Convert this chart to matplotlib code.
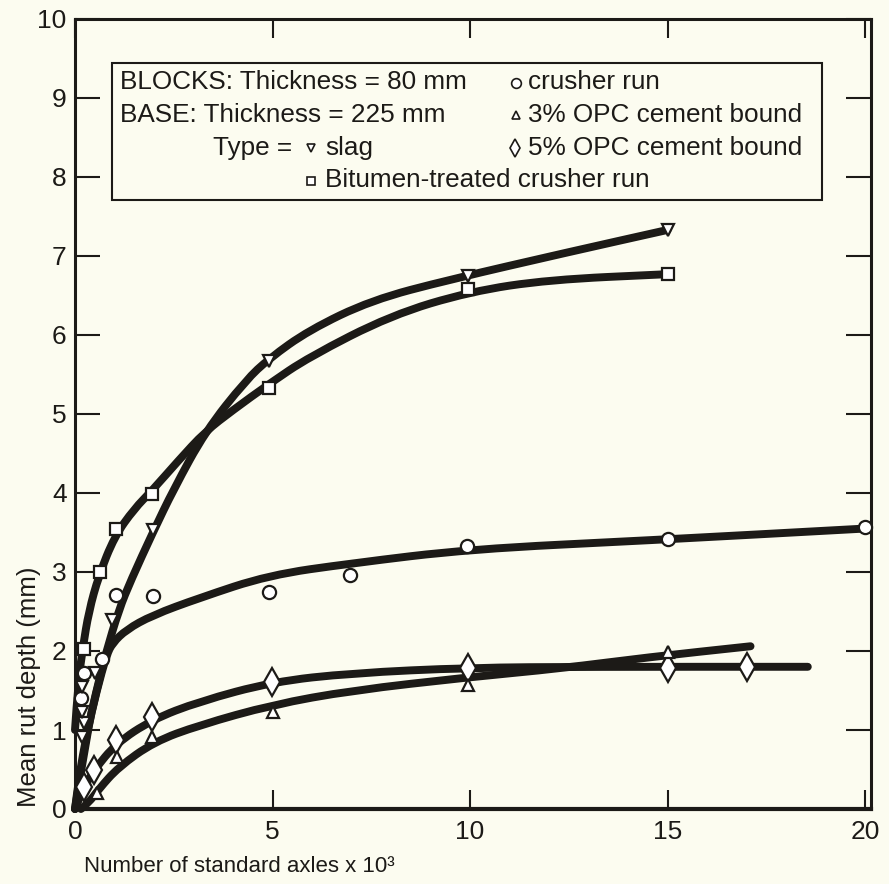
import matplotlib
matplotlib.use("Agg")
import matplotlib.pyplot as plt
from matplotlib.patches import Rectangle, PathPatch
from matplotlib.path import Path

plt.rcParams['font.family'] = ['Liberation Sans', 'DejaVu Sans']

# ---- data (x in 10^3 axles, y in mm) ----
crusher_x = [0.15, 0.23, 0.69, 1.04, 1.97, 4.91, 6.96, 9.92, 15, 20]
crusher_y = [1.40, 1.72, 1.90, 2.71, 2.69, 2.75, 2.96, 3.33, 3.42, 3.57]
crusher_curve_x = [0, 0.3, 0.55, 0.8, 0.95, 1.3, 1.95, 3.14, 4.9, 7, 10, 14.5, 20]
crusher_curve_y = [0, 0.96, 1.5, 1.95, 2.1, 2.27, 2.45, 2.67, 2.96, 3.11, 3.29, 3.40, 3.55]

slag_x = [0.18, 0.23, 0.18, 0.18, 0.5, 0.94, 1.97, 4.91, 9.95, 15]
slag_y = [0.91, 1.09, 1.23, 1.55, 1.72, 2.39, 3.53, 5.67, 6.75, 7.33]
slag_curve_x = [0, 0.1, 0.3, 0.53, 0.78, 1.11, 1.42, 1.97, 2.5, 3.3, 4.33, 4.91, 5.92, 7.5, 9.47, 12.5, 15]
slag_curve_y = [0, 0.4, 0.96, 1.47, 1.97, 2.52, 2.9, 3.5, 4.05, 4.78, 5.43, 5.7, 6.06, 6.44, 6.70, 7.05, 7.33]

bitumen_x = [0.23, 0.63, 1.04, 1.95, 4.91, 9.95, 15]
bitumen_y = [2.02, 3.0, 3.54, 3.99, 5.33, 6.58, 6.77]
bitumen_curve_x = [0, 0.08, 0.2, 0.35, 0.6, 1.0, 1.5, 1.95, 2.6, 3.3, 4.0, 4.91, 5.92, 8, 10, 12, 15]
bitumen_curve_y = [1.0, 1.6, 2.05, 2.5, 2.95, 3.45, 3.8, 4.03, 4.4, 4.78, 5.05, 5.38, 5.72, 6.25, 6.55, 6.70, 6.77]

opc5_x = [0.23, 0.48, 1.04, 1.95, 4.99, 9.95, 15, 17.0]
opc5_y = [0.28, 0.50, 0.87, 1.16, 1.61, 1.78, 1.78, 1.80]
opc5_curve_x = [0, 0.2, 0.48, 1.04, 1.95, 3.14, 5, 7, 10, 13, 18.55]
opc5_curve_y = [0, 0.25, 0.49, 0.83, 1.13, 1.36, 1.61, 1.72, 1.79, 1.80, 1.80]

opc3_x = [0.56, 1.06, 1.95, 5.0, 9.95, 15]
opc3_y = [0.2, 0.66, 0.91, 1.23, 1.57, 1.99]
opc3_curve_x = [0.15, 0.35, 0.6, 1.1, 2.0, 3.14, 5, 7, 10, 12.3, 14.5, 17.1]
opc3_curve_y = [0, 0.08, 0.25, 0.53, 0.85, 1.06, 1.32, 1.5, 1.67, 1.78, 1.92, 2.06]

x_ticks = [0, 5, 10, 15, 20]
y_ticks = list(range(0, 11))

ink = '#1c1a17'
bg = '#fcfcf0'


def smooth_path(xs, ys):
    # quadratic bezier through midpoints, drawn by matplotlib's Path
    verts = [(xs[0], ys[0])]
    codes = [Path.MOVETO]
    for i in range(1, len(xs) - 1):
        verts.append((xs[i], ys[i]))
        verts.append(((xs[i] + xs[i + 1]) / 2, (ys[i] + ys[i + 1]) / 2))
        codes += [Path.CURVE3, Path.CURVE3]
    verts.append((xs[-1], ys[-1]))
    codes.append(Path.LINETO)
    return Path(verts, codes)


fig = plt.figure(figsize=(8.89, 8.84), dpi=100, facecolor=bg)
ax = fig.add_axes([75 / 889, 1 - 809 / 884, 796 / 889, 790 / 884])
ax.set_facecolor(bg)

curves = [
    (crusher_curve_x, crusher_curve_y),
    (slag_curve_x, slag_curve_y),
    (bitumen_curve_x, bitumen_curve_y),
    (opc5_curve_x, opc5_curve_y),
    (opc3_curve_x, opc3_curve_y),
]
for cx, cy in curves:
    pp = PathPatch(smooth_path(cx, cy), fill=False, edgecolor=ink, lw=5.7,
                   capstyle='round', joinstyle='round', zorder=2, clip_on=False)
    ax.add_patch(pp)

mk = dict(linestyle='none', markerfacecolor='white', markeredgecolor=ink,
          markeredgewidth=1.6, zorder=3, clip_on=False)
ax.plot(crusher_x, crusher_y, marker='o', markersize=9.5, **mk)
ax.plot(slag_x, slag_y, marker='v', markersize=8, **mk)
ax.plot(bitumen_x, bitumen_y, marker='s', markersize=8.5, **mk)
ax.plot(opc5_x, opc5_y, marker='d', markersize=14, **mk)
ax.plot(opc3_x, opc3_y, marker='^', markersize=8, **mk)

ax.set_xlim(0, 20.15)
ax.set_ylim(0, 10)
ax.set_xticks(x_ticks)
ax.set_yticks(y_ticks)

for s in ax.spines.values():
    s.set_linewidth(2.2)
    s.set_color(ink)
ax.spines['bottom'].set_linewidth(3)

ax.tick_params(axis='both', direction='in', top=True, right=True,
               labelsize=19, colors=ink, width=1.5)
ax.tick_params(axis='y', length=18, pad=6)
ax.tick_params(axis='x', length=14, pad=8)

ax.set_ylabel('Mean rut depth (mm)', fontsize=18.5, color=ink)
ax.yaxis.set_label_coords(-0.058, 0.155)
ax.yaxis.label.set_va('center')
fig.text(84 / 889, 1 - 866 / 884, 'Number of standard axles x 10³',
         fontsize=16, color=ink, ha='left', va='center')

# legend box
ax.add_patch(Rectangle((0.94, 7.71), 17.96, 1.73, fill=False, edgecolor=ink,
                       lw=1.5, zorder=4))


def ftxt(x, y, s):
    fig.text(x / 889, 1 - y / 884, s, fontsize=18.8, color=ink,
             ha='left', va='center')


def fmark(x, y, m, ms):
    ax.plot([x / 889], [1 - y / 884], marker=m, markersize=ms, linestyle='none',
            markerfacecolor='white', markeredgecolor=ink, markeredgewidth=1.2,
            transform=fig.transFigure, clip_on=False, zorder=5)


ftxt(120, 82, 'BLOCKS: Thickness = 80 mm')
ftxt(120, 115, 'BASE: Thickness = 225 mm')
ftxt(213, 148, 'Type =')
fmark(516, 83, 'o', 7)
ftxt(528, 82, 'crusher run')
fmark(516, 115, '^', 6)
ftxt(528, 115, '3% OPC cement bound')
fmark(311, 148, 'v', 6)
ftxt(325, 148, 'slag')
fmark(515, 148, 'd', 9)
ftxt(528, 148, '5% OPC cement bound')
fmark(311, 181, 's', 6)
ftxt(325, 180, 'Bitumen-treated crusher run')

fig.savefig('out.png', dpi=100, facecolor=bg)
